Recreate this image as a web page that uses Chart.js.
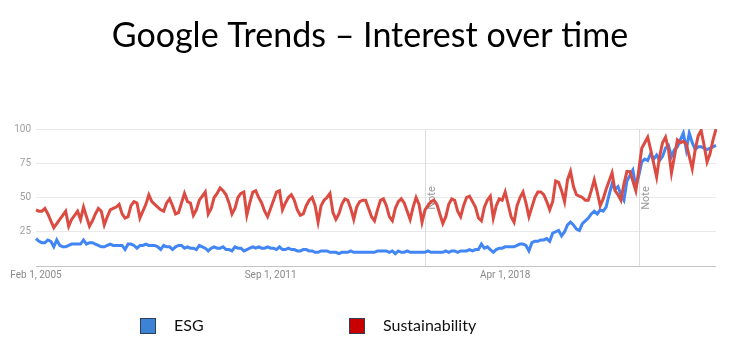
<!DOCTYPE html>
<html>
<head>
<meta charset="utf-8">
<title>Google Trends – Interest over time</title>
<script src="https://cdn.jsdelivr.net/npm/chart.js@4.4.1/dist/chart.umd.min.js"></script>
<style>
  html, body { margin: 0; padding: 0; background: #fff; }
  #wrap { width: 736px; height: 353px; position: relative; }
</style>
</head>
<body>
<div id="wrap"><canvas id="grafica"></canvas></div>
<script>
// Monthly data, Feb 2005 - Mar 2024
const sustainability = [
  41, 40, 40, 42, 38, 33, 28, 31, 34, 37, 40, 29,
  34, 37, 40, 34, 43, 36, 29, 33, 38, 42, 40, 30,
  36, 41, 42, 43, 45, 38, 35, 36, 44, 47, 46, 35,
  40, 45, 52, 47, 45, 43, 41, 40, 46, 49, 44, 38,
  39, 46, 53, 47, 46, 37, 41, 48, 51, 54, 38, 42,
  50, 53, 57, 55, 52, 46, 38, 42, 50, 53, 54,
  37, 46, 54, 55, 50, 46, 40, 36, 42, 48, 54,
  55, 41, 46, 50, 52, 48, 41, 37, 38, 44, 48, 50, 44, 32,
  44, 48, 50, 53, 39, 34, 38, 45, 49, 48, 42, 34,
  43, 47, 48, 48, 42, 36, 33, 41, 48, 49, 44, 36,
  33, 42, 47, 49, 46, 40, 34, 43, 50, 45, 32, 41,
  44, 47, 48, 45, 38, 31, 36, 45, 49, 48, 40, 36,
  44, 50, 51, 47, 43, 35, 33, 43,
  48, 51, 35, 44, 49, 48, 54, 45, 36, 32, 44, 50,
  54, 46, 36, 43, 50, 54, 54, 52, 47, 41, 47, 62,
  61, 55, 47, 63, 69, 58, 52, 51, 50, 48, 48, 55,
  63, 54, 44, 49, 56, 62, 68, 55, 52, 48, 60, 69,
  69, 62, 55, 70, 86, 90, 94, 85, 75, 65, 80, 90,
  94, 85, 68, 80, 92, 90, 91, 89, 80, 71, 85, 95,
  99, 88, 76, 82, 92, 100
];

const esg = [
  20, 18, 17, 17, 19, 18, 14, 19, 15, 14, 14, 15,
  16, 16, 16, 16, 19, 16, 17, 17, 16, 15, 14, 14,
  15, 16, 15, 15, 15, 15, 12, 16, 16, 15, 13, 15,
  15, 16, 15, 15, 15, 14, 12, 15, 14, 14, 12, 14,
  15, 15, 13, 14, 13, 13, 12, 15, 14, 13, 11, 13,
  14, 13, 13, 14, 12, 12, 11, 14, 13, 13, 11,
  12, 13, 14, 13, 14, 13, 13, 14, 13, 13, 12,
  14, 12, 12, 13, 12, 12, 11, 11, 12, 12, 11, 11, 10, 10,
  11, 11, 11, 10, 10, 10, 9, 10, 10, 10, 11, 10,
  10, 10, 10, 10, 10, 10, 10, 11, 11, 11, 11, 10,
  11, 9, 11, 10, 10, 11, 10, 10, 10, 10, 10, 10,
  11, 10, 10, 10, 10, 10, 11, 10, 11, 11, 10, 11,
  11, 11, 12, 11, 12, 12, 16, 13,
  14, 12, 10, 12, 13, 13, 14, 14, 14, 14, 15, 16,
  16, 15, 11, 17, 18, 18, 19, 19, 20, 18, 24, 25,
  26, 22, 25, 30, 32, 30, 27, 26, 31, 33, 35, 38,
  40, 38, 41, 40, 43, 52, 60, 56, 58, 52, 48, 62,
  66, 70, 58, 66, 76, 78, 77, 82, 78, 81, 77, 80,
  86, 88, 80, 85, 87, 92, 97, 85, 97, 90, 85, 87,
  87, 86, 85, 86, 87, 88
];

const monthNames = ["Jan", "Feb", "Mar", "Apr", "May", "Jun", "Jul", "Aug", "Sep", "Oct", "Nov", "Dec"];

// Category labels: one per month starting Feb 2005
const months = [];
for (let i = 0; i < sustainability.length; i++) {
  const mi = (1 + i) % 12;
  const yr = 2005 + Math.floor((1 + i) / 12);
  months.push(`${monthNames[mi]} 1, ${yr}`);
}

// Axis labels shown on the x axis (by month label)
const xTickLabels = ["Feb 1, 2005", "Sep 1, 2011", "Apr 1, 2018"];
const yTicks = [25, 50, 75, 100];
// Google "Note" markers (data collection changes)
const notes = ["Jan 1, 2016", "Jan 1, 2022"];

const chartTitle = "Google Trends – Interest over time";
const legendNames = ["ESG", "Sustainability"];
const legendColors = ["#3c83d6", "#c80000"];

// Slide title, centred on the page like the original
const tituloPlugin = {
  id: "titulo",
  afterDraw(chart) {
    const ctx = chart.ctx;
    ctx.save();
    ctx.fillStyle = "#000";
    ctx.font = "34px Lato";
    ctx.textAlign = "center";
    ctx.textBaseline = "alphabetic";
    ctx.fillText(chartTitle, 370, 47);
    ctx.restore();
  }
};

// Vertical "Note" lines
const notasPlugin = {
  id: "notas",
  beforeDatasetsDraw(chart) {
    const { ctx, chartArea, scales } = chart;
    ctx.save();
    notes.forEach(n => {
      const x = Math.round(scales.x.getPixelForValue(months.indexOf(n))) + 0.5;
      ctx.strokeStyle = "#dcdcdc";
      ctx.lineWidth = 1;
      ctx.beginPath();
      ctx.moveTo(x, chartArea.top);
      ctx.lineTo(x, chartArea.bottom);
      ctx.stroke();
      ctx.translate(x + 7, 198);
      ctx.rotate(-Math.PI / 2);
      ctx.fillStyle = "#9a9a9a";
      ctx.font = "11px Roboto";
      ctx.textAlign = "center";
      ctx.textBaseline = "middle";
      ctx.fillText("Note", 0, 0);
      ctx.setTransform(1, 0, 0, 1, 0, 0);
    });
    ctx.restore();
  }
};

// Legend drawn like the slide: boxes far apart below the chart
const leyendaPlugin = {
  id: "leyenda",
  afterDraw(chart) {
    const ctx = chart.ctx;
    const pos = [140, 349];
    ctx.save();
    legendNames.forEach((name, i) => {
      ctx.fillStyle = legendColors[i];
      ctx.fillRect(pos[i], 318, 15, 15);
      ctx.strokeStyle = "#2f3f5a";
      ctx.lineWidth = 1;
      ctx.strokeRect(pos[i] + 0.5, 318.5, 15, 15);
      ctx.fillStyle = "#111";
      ctx.font = "16px Lato";
      ctx.textBaseline = "alphabetic";
      ctx.fillText(name, pos[i] + 34, 331);
    });
    ctx.restore();
  }
};

const ctx = document.getElementById("grafica").getContext("2d");

new Chart(ctx, {
  type: "line",
  data: {
    labels: months,
    datasets: [
      {
        label: "Sustainability",
        data: sustainability,
        borderColor: "#dc4b42",
        borderWidth: 3,
        pointRadius: 0,
        tension: 0,
        order: 0
      },
      {
        label: "ESG",
        data: esg,
        borderColor: "#4285f4",
        borderWidth: 3,
        pointRadius: 0,
        tension: 0,
        order: 1
      }
    ]
  },
  options: {
    responsive: true,
    maintainAspectRatio: false,
    animation: false,
    layout: { padding: { left: 0, right: 20, top: 129, bottom: 71 } },
    plugins: {
      legend: { display: false },
      tooltip: { enabled: false },
      title: { display: false }
    },
    scales: {
      x: {
        grid: { display: false, drawTicks: false },
        border: { display: false },
        afterBuildTicks(scale) {
          scale.ticks = xTickLabels.map(l => ({ value: months.indexOf(l) }));
        },
        afterFit(scale) { scale.height = 16; },
        ticks: {
          autoSkip: false,
          maxRotation: 0,
          padding: 3,
          color: "#8a8a8a",
          font: { family: "Roboto", size: 10 },
          callback: function (value) { return months[value]; }
        }
      },
      y: {
        min: 0,
        max: 100,
        afterBuildTicks(scale) {
          scale.ticks = [0].concat(yTicks).map(v => ({ value: v }));
        },
        afterFit(scale) { scale.width = 36; },
        border: { display: false },
        grid: {
          drawTicks: false,
          color: c => (c.tick && c.tick.value === 0 ? "#c4c4c4" : "#e9e9e9"),
          lineWidth: 1
        },
        ticks: {
          padding: 5,
          color: "#a0a0a0",
          font: { family: "Roboto", size: 10 },
          callback: v => (v === 0 ? "" : v)
        }
      }
    }
  },
  plugins: [tituloPlugin, notasPlugin, leyendaPlugin]
});
</script>
</body>
</html>
